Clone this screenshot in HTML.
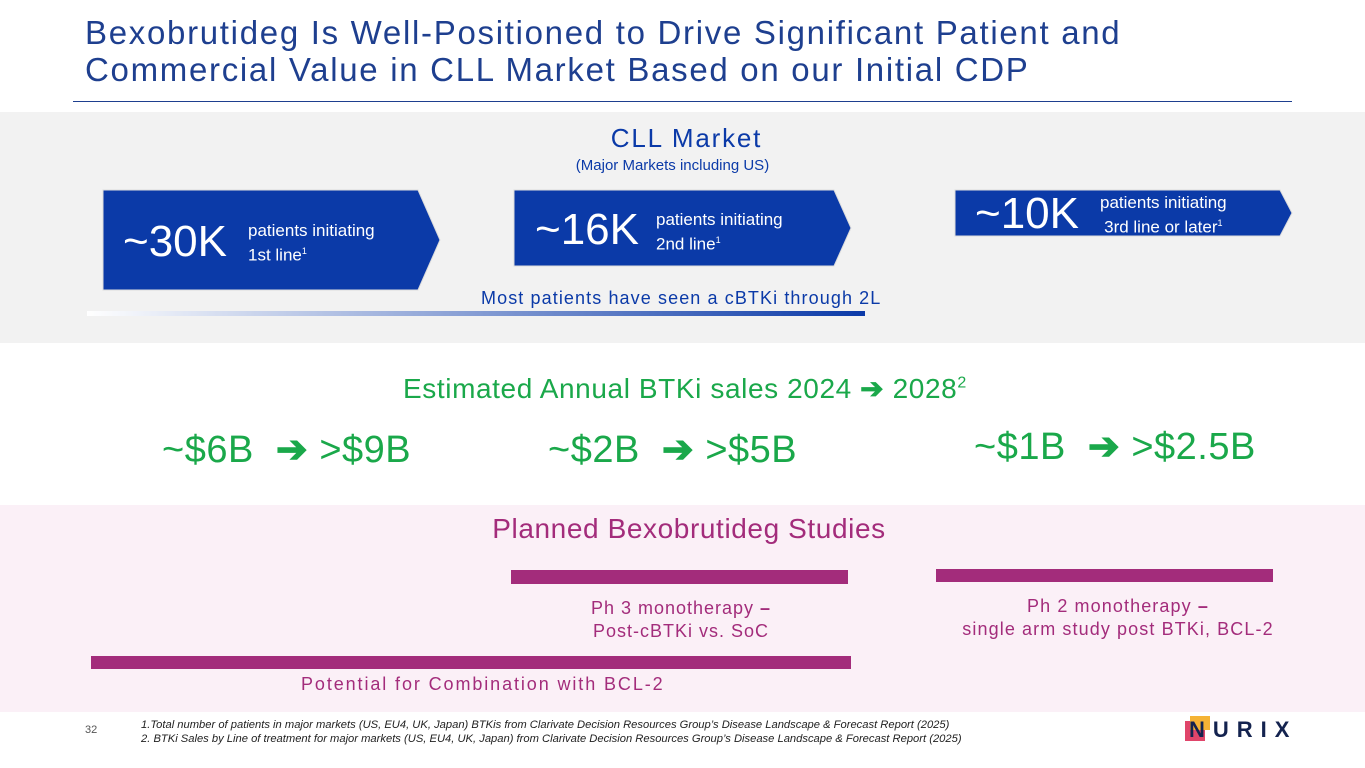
<!DOCTYPE html>
<html><head><meta charset="utf-8"><style>
body{margin:0;width:1365px;height:768px;position:relative;overflow:hidden;background:#fff;font-family:"Liberation Sans",sans-serif}
div,span,svg{position:absolute}
.t{white-space:nowrap}
</style></head><body>
<div class="t" style="left:85px;top:14px;font-size:33px;line-height:37px;color:#1e3f8f;letter-spacing:1.7px">Bexobrutideg Is Well-Positioned to Drive Significant Patient and<br>Commercial Value in CLL Market Based on our Initial CDP</div>
<div style="left:73px;top:101px;width:1219px;height:1px;background:#1e3f8f"></div>
<div style="left:0;top:112px;width:1365px;height:231px;background:#f2f2f2"></div>
<div class="t" style="left:0;width:1373px;text-align:center;top:123px;font-size:26px;color:#0b3aa8;letter-spacing:1.8px">CLL Market</div>
<div class="t" style="left:0;width:1345px;text-align:center;top:157px;font-size:15px;color:#0b3aa8">(Major Markets including US)</div>
<svg style="left:0;top:0" width="1365" height="400">
<polygon points="103,190 418,190 440,240 418,290 103,290" fill="#0b3aa8" stroke="#dcdcdc" stroke-width="1"/>
<polygon points="514,190 834,190 851,228 834,266 514,266" fill="#0b3aa8" stroke="#dcdcdc" stroke-width="1"/>
<polygon points="955,190 1280,190 1292,213 1280,236 955,236" fill="#0b3aa8" stroke="#dcdcdc" stroke-width="1"/>
<defs><linearGradient id="g" x1="0" x2="1"><stop offset="0" stop-color="#fff"/><stop offset="1" stop-color="#0b3aa8"/></linearGradient></defs>
<rect x="87" y="311" width="778" height="5" fill="url(#g)"/>
</svg>
<div class="t" style="left:123px;top:217px;font-size:44px;color:#fff">~30K</div>
<div class="t" style="left:248px;top:221px;font-size:17px;line-height:20px;color:#fff">patients initiating<br>1st line<sup style="font-size:9px">1</sup></div>
<div class="t" style="left:535px;top:205px;font-size:44px;color:#fff">~16K</div>
<div class="t" style="left:656px;top:210px;font-size:17px;line-height:20px;color:#fff">patients initiating<br>2nd line<sup style="font-size:9px">1</sup></div>
<div class="t" style="left:975px;top:189px;font-size:44px;color:#fff">~10K</div>
<div class="t" style="left:1100px;top:193px;font-size:17px;line-height:20px;color:#fff;text-align:center">patients initiating<br>3rd line or later<sup style="font-size:9px">1</sup></div>
<div class="t" style="left:481px;top:288px;font-size:18px;color:#0b3aa8;letter-spacing:1.1px">Most patients have seen a cBTKi through 2L</div>
<div class="t" style="left:403px;top:372px;font-size:28px;color:#1aa84a;letter-spacing:0.6px">Estimated Annual BTKi sales 2024 <b>➔</b> 2028<sup style="font-size:16px">2</sup></div>
<div class="t" style="left:162px;top:427px;font-size:38px;color:#1aa84a;letter-spacing:0.5px">~$6B &nbsp;<b>➔</b> &gt;$9B</div>
<div class="t" style="left:548px;top:427px;font-size:38px;color:#1aa84a;letter-spacing:0.5px">~$2B &nbsp;<b>➔</b> &gt;$5B</div>
<div class="t" style="left:974px;top:424px;font-size:38px;color:#1aa84a;letter-spacing:0.5px">~$1B &nbsp;<b>➔</b> &gt;$2.5B</div>
<div style="left:0;top:505px;width:1365px;height:207px;background:#fbf0f7"></div>
<div class="t" style="left:0;width:1378px;text-align:center;top:513px;font-size:28px;color:#a32c7b;letter-spacing:0.6px">Planned Bexobrutideg Studies</div>
<div style="left:511px;top:570px;width:337px;height:14px;background:#a32c7b"></div>
<div style="left:936px;top:569px;width:337px;height:13px;background:#a32c7b"></div>
<div style="left:91px;top:656px;width:760px;height:13px;background:#a32c7b"></div>
<div class="t" style="left:511px;width:340px;text-align:center;top:597px;font-size:18px;line-height:23px;color:#a32c7b;letter-spacing:1px">Ph 3 monotherapy <b>–</b><br>Post-cBTKi vs. SoC</div>
<div class="t" style="left:936px;width:364px;text-align:center;top:595px;font-size:18px;line-height:23px;color:#a32c7b;letter-spacing:1.1px">Ph 2 monotherapy <b>–</b><br>single arm study post BTKi, BCL-2</div>
<div class="t" style="left:301px;top:674px;font-size:18px;color:#a32c7b;letter-spacing:1.9px">Potential for Combination with BCL-2</div>
<div class="t" style="left:85px;top:724px;font-size:11px;color:#555">32</div>
<div class="t" style="left:141px;top:718px;font-size:11.2px;line-height:14px;color:#222;font-style:italic">1.Total number of patients in major markets (US, EU4, UK, Japan) BTKis from Clarivate Decision Resources Group’s Disease Landscape &amp; Forecast Report (2025)<br>2. BTKi Sales by Line of treatment for major markets (US, EU4, UK, Japan) from Clarivate Decision Resources Group’s Disease Landscape &amp; Forecast Report (2025)</div>
<div style="left:1185px;top:716px;width:110px;height:26px">
<span style="left:0;top:5px;width:20px;height:20px;background:#e0456a"></span>
<span style="left:5px;top:0;width:20px;height:14px;background:#f5b335"></span>
<span class="t" style="left:4px;top:1px;font-size:22px;font-weight:bold;color:#14234f;letter-spacing:8px">NURIX</span>
</div>
</body></html>
